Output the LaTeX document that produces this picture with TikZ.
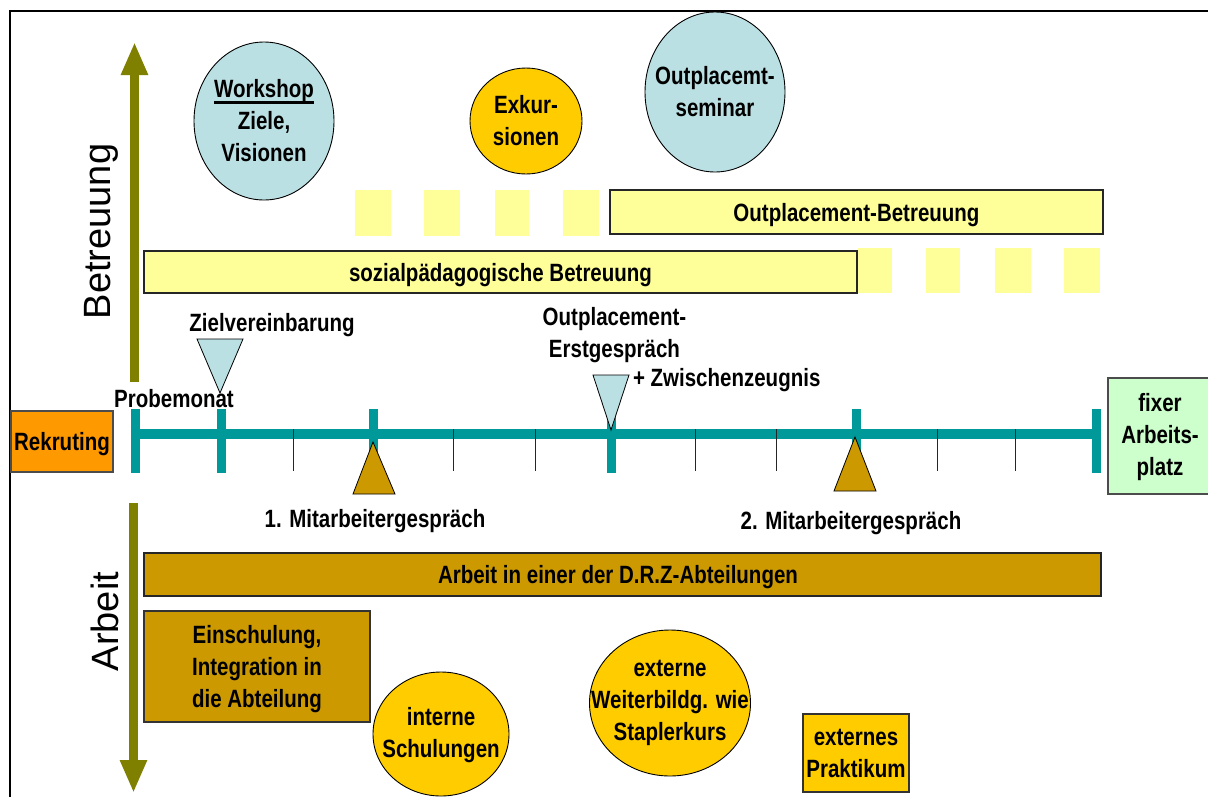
\documentclass[tikz,border=0pt]{standalone}
\usepackage{fontspec}
\setmainfont{Liberation Sans}[FakeStretch=0.82]
\newfontfamily\axisfont{Liberation Sans}
\usetikzlibrary{shapes.geometric,arrows.meta}

\definecolor{olivearrow}{HTML}{808000}
\definecolor{lblue}{HTML}{BBE0E3}
\definecolor{lyellow}{HTML}{FFFF99}
\definecolor{gold}{HTML}{FFCC00}
\definecolor{darkgold}{HTML}{CC9900}
\definecolor{rekorange}{HTML}{FF9900}
\definecolor{lgreen}{HTML}{CCFFCC}
\definecolor{tealline}{HTML}{009999}

\newcommand{\ulword}[1]{{\setbox0\hbox{#1}\rlap{\rule[-6pt]{\wd0}{2.8pt}}\box0}}

\begin{document}
\begin{tikzpicture}[x=1pt,y=-1pt,
  every node/.style={inner sep=0pt, outer sep=0pt},
  lbl/.style={font=\bfseries\fontsize{25}{32}\selectfont, align=center},
  bubble/.style={ellipse, draw=black, line width=0.9pt, inner sep=0pt},
  barbox/.style={rectangle, draw=black!85, line width=1.1pt,
    font=\bfseries\fontsize{25}{32}\selectfont, align=center, text depth=0pt},
  gapbox/.style={fill=lyellow},
  olivaxis/.style={draw=olivearrow, line width=9pt,
    -{Triangle[width=25pt,length=33pt]}},
  axislbl/.style={font=\axisfont\fontsize{38}{40}\selectfont, rotate=90, anchor=base},
  bigtick/.style={draw=tealline, line width=9pt},
  smalltick/.style={draw=black!85, line width=1pt},
  marker/.style={draw=black, line width=0.8pt},
]
\useasboundingbox (0,0) rectangle (1208,796);
\fill[white] (0,0) rectangle (1208,796);

% outer frame
\draw[line width=2.7pt] (10,810) -- (10,11) -- (1220,11);

% vertical axes
\coordinate (upS) at (134.5,382);
\coordinate (upE) at (134.5,42);
\coordinate (dnS) at (133.5,503);
\coordinate (dnE) at (133.5,793);
\draw[olivaxis] (upS) -- (upE);
\draw[olivaxis] (dnS) -- (dnE);
\node[axislbl] (betr) at (110,231.5) {Betreuung};
\node[axislbl] (arb) at (118,621.5) {Arbeit};

% support events
\node[bubble, fill=lblue, minimum width=140pt, minimum height=158pt] (ws) at (264,121) {};
\node[lbl] at (ws.center) {\ulword{Workshop}\\Ziele,\\Visionen};
\node[bubble, fill=gold, minimum width=112pt, minimum height=106pt] (exk) at (526,121) {};
\node[lbl] at (exk.center) {Exkur-\\sionen};
\node[bubble, fill=lblue, minimum width=140pt, minimum height=160pt] (ops) at (715,92) {};
\node[lbl] at (ops.center) {Outplacemt-\\seminar};

% support bars
\fill[gapbox] (355,190) rectangle (391,236);
\fill[gapbox] (424,190) rectangle (460,236);
\fill[gapbox] (495,190) rectangle (529,236);
\fill[gapbox] (563,190) rectangle (599,236);
\node[barbox, fill=lyellow, minimum width=493pt, minimum height=44pt] (opb) at (856.5,212) {Outplacement-Betreuung};
\node[barbox, fill=lyellow, minimum width=713pt, minimum height=42pt] (soz) at (500.5,272) {sozialpädagogische Betreuung};
\fill[gapbox] (858,248) rectangle (892,293);
\fill[gapbox] (926,248) rectangle (960,293);
\fill[gapbox] (995,248) rectangle (1031,293);
\fill[gapbox] (1064,248) rectangle (1100,293);

% time line
\coordinate (t0) at (135,434);
\coordinate (t12) at (1096,434);
\draw[draw=tealline, line width=10pt] (t0) -- (t12);
\foreach \x in {135,221,373,611,856,1096}
  \draw[bigtick] (\x,409) -- (\x,473);
\foreach \x in {293,453,535,695,776,937,1015}
  \draw[smalltick] (\x,429) -- (\x,471);

% milestones
\filldraw[marker, fill=lblue] (197,339) -- (243,339) -- (220,393) -- cycle;
\filldraw[marker, fill=lblue] (593,375) -- (629,375) -- (611,430) -- cycle;
\filldraw[marker, fill=darkgold] (373,442) -- (395,494) -- (353,494) -- cycle;
\filldraw[marker, fill=darkgold] (855,437) -- (876,491) -- (834,491) -- cycle;

\node[lbl, anchor=base] (ziel) at (272,331) {Zielvereinbarung};
\node[lbl, anchor=base] (probe) at (174,407) {Probemonat};
\node[lbl, anchor=base] (oeg1) at (614.5,325) {Outplacement-};
\node[lbl, anchor=base] (oeg2) at (614.5,357) {Erstgespräch};
\node[lbl, anchor=base west] (zz) at (633,386) {+ Zwischenzeugnis};
\node[lbl, anchor=base] (mag1) at (375,527) {1. Mitarbeitergespräch};
\node[lbl, anchor=base] (mag2) at (851,529) {2. Mitarbeitergespräch};

% start and end
\node[barbox, fill=rekorange, draw=black!70, minimum width=102pt, minimum height=61pt] (rek) at (62,441.5) {Rekruting};
\node[barbox, fill=lgreen, draw=black!70, minimum width=106pt, minimum height=116pt] (fix) at (1161,436) {};
\node[lbl] at (1160,437) {fixer\\Arbeits-\\platz};

% work
\node[barbox, fill=darkgold, minimum width=957pt, minimum height=43pt] (arbbar) at (622.5,574.5) {};
\node[lbl, text depth=0pt] at (618,574.5) {Arbeit in einer der D.R.Z-Abteilungen};
\node[barbox, fill=darkgold, draw=black!80, minimum width=226pt, minimum height=111pt] (ein) at (257,666.5) {Einschulung,\\Integration in\\die Abteilung};
\node[bubble, fill=gold, minimum width=136pt, minimum height=124pt] (int) at (441,734) {};
\node[lbl] at (441,735) {interne\\Schulungen};
\node[bubble, fill=gold, minimum width=161pt, minimum height=146pt] (ext) at (670,703) {};
\node[lbl] at (670,703) {externe\\Weiterbildg. wie\\Staplerkurs};
\node[barbox, fill=gold, draw=black!80, minimum width=106pt, minimum height=78pt] (prak) at (856,753) {externes\\Praktikum};
\end{tikzpicture}
\end{document}
